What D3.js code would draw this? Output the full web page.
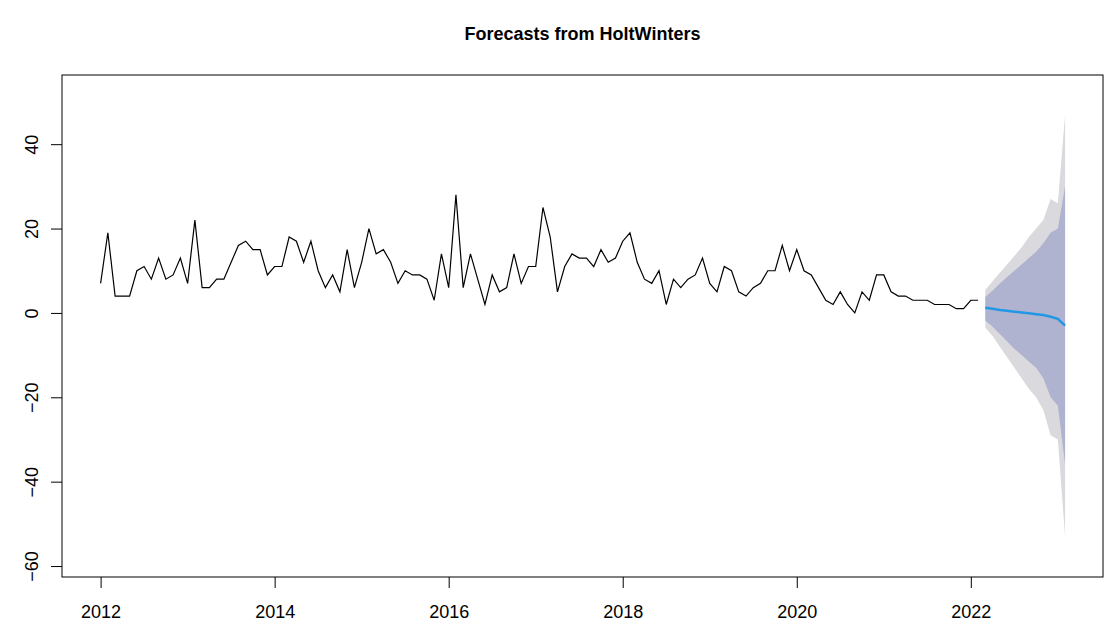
<!DOCTYPE html>
<html>
<head>
<meta charset="utf-8">
<script src="https://cdn.jsdelivr.net/npm/d3@7"></script>
<style>
  body { margin: 0; background: #fff; }
  svg { display: block; font-family: "Liberation Sans", Arial, sans-serif; }
</style>
</head>
<body>
<div class="chart"></div>
<script>
// observed series, monthly from Jan 2012
var startYear = 2012;
var observed = [
  7, 19, 4, 4, 4, 10, 11, 8, 13, 8, 9, 13,
  7, 22, 6, 6, 8, 8, 12, 16, 17, 15, 15, 9,
  11, 11, 18, 17, 12, 17, 10, 6, 9, 5, 15, 6,
  12, 20, 14, 15, 12, 7, 10, 9, 9, 8, 3, 14,
  6, 28, 6, 14, 8, 2, 9, 5, 6, 14, 7, 11,
  11, 25, 18, 5, 11, 14, 13, 13, 11, 15, 12, 13,
  17, 19, 12, 8, 7, 10, 2, 8, 6, 8, 9, 13,
  7, 5, 11, 10, 5, 4, 6, 7, 10, 10, 16, 10,
  15, 10, 9, 6, 3, 2, 5, 2, 0, 5, 3, 9,
  9, 5, 4, 4, 3, 3, 3, 2, 2, 2, 1, 1,
  3, 3
];

// forecast, 12 months from Mar 2022
var fcMean = [1.2, 1.0, 0.7, 0.5, 0.3, 0.1, -0.1, -0.3, -0.5, -0.9, -1.4, -3.0];
var fcUpper95 = [5.5, 7.5, 9.5, 11.5, 13.5, 15.5, 18, 20, 22, 27, 26, 47];
var fcLower95 = [-3.5, -5.5, -8, -10.5, -13, -15.5, -18, -20, -23, -29, -30, -53];
var fcUpper80 = [3.8, 5.3, 7, 8.5, 10, 11.5, 13, 14.5, 16.5, 19, 20, 30];
var fcLower80 = [-1.8, -3.3, -5, -6.8, -8.5, -10, -11.5, -13, -15.5, -20, -22, -36];

var xTicks = [2012, 2014, 2016, 2018, 2020, 2022];
var yTicks = [-60, -40, -20, 0, 20, 40];

var svgWidth = 1107;
var svgHeight = 634;

var margin = { top: 75, right: 4, bottom: 57, left: 62 };
var width = svgWidth - margin.left - margin.right;
var height = svgHeight - margin.top - margin.bottom;

var svg = d3.select(".chart")
  .append("svg")
  .attr("width", svgWidth)
  .attr("height", svgHeight);

svg.append("rect")
  .attr("width", svgWidth)
  .attr("height", svgHeight)
  .attr("fill", "#fff");

var chartGroup = svg.append("g")
  .attr("transform", `translate(${margin.left}, ${margin.top})`);

var xScale = d3.scaleLinear()
  .domain([2011.5564, 2023.519])
  .range([0, width]);

var yScale = d3.scaleLinear()
  .domain([-62.6, 56.4])
  .range([height, 0]);

var obsData = observed.map((v, i) => ({ t: startYear + i / 12, v: v }));
var fcStart = observed.length;
var fcData = fcMean.map((m, i) => ({
  t: startYear + (fcStart + i) / 12,
  mean: m,
  lo95: fcLower95[i], hi95: fcUpper95[i],
  lo80: fcLower80[i], hi80: fcUpper80[i]
}));

// prediction bands
var band95 = d3.area()
  .x(d => xScale(d.t))
  .y0(d => yScale(d.lo95))
  .y1(d => yScale(d.hi95));

var band80 = d3.area()
  .x(d => xScale(d.t))
  .y0(d => yScale(d.lo80))
  .y1(d => yScale(d.hi80));

chartGroup.append("path")
  .datum(fcData)
  .attr("d", band95)
  .attr("fill", "#dadade");

chartGroup.append("path")
  .datum(fcData)
  .attr("d", band80)
  .attr("fill", "#b0b3cf");

// observed line
var line = d3.line()
  .x(d => xScale(d.t))
  .y(d => yScale(d.v));

chartGroup.append("path")
  .datum(obsData)
  .attr("d", line)
  .attr("fill", "none")
  .attr("stroke", "#000")
  .attr("stroke-width", 1.2);

// forecast mean
chartGroup.append("path")
  .datum(fcData)
  .attr("d", d3.line().x(d => xScale(d.t)).y(d => yScale(d.mean)))
  .attr("fill", "none")
  .attr("stroke", "#2297e6")
  .attr("stroke-width", 2.5);

// axes
var bottomAxis = d3.axisBottom(xScale)
  .tickValues(xTicks)
  .tickFormat(d3.format("d"))
  .tickSizeOuter(0)
  .tickSizeInner(11)
  .tickPadding(17);

var leftAxis = d3.axisLeft(yScale)
  .tickValues(yTicks)
  .tickSizeOuter(0)
  .tickSizeInner(11);

var xAxisG = chartGroup.append("g")
  .attr("transform", `translate(0, ${height})`)
  .call(bottomAxis);
xAxisG.select(".domain").remove();
xAxisG.selectAll("text")
  .style("font-size", "18px")
  .attr("fill", "#000");
xAxisG.selectAll("line").attr("stroke", "#000");

var yAxisG = chartGroup.append("g")
  .call(leftAxis);
yAxisG.select(".domain").remove();
yAxisG.selectAll("line").attr("stroke", "#000");
yAxisG.selectAll("text")
  .style("font-size", "18px")
  .attr("fill", "#000")
  .attr("x", 0)
  .attr("dy", 0)
  .attr("text-anchor", "middle")
  .attr("transform", "translate(-31, 0) rotate(-90)")
  .attr("y", 7);

// box
chartGroup.append("rect")
  .attr("width", width)
  .attr("height", height)
  .attr("fill", "none")
  .attr("stroke", "#000")
  .attr("stroke-width", 1);

// title
svg.append("text")
  .attr("x", margin.left + width / 2)
  .attr("y", 40)
  .attr("text-anchor", "middle")
  .style("font-size", "18px")
  .style("font-weight", "bold")
  .text("Forecasts from HoltWinters");
</script>
</body>
</html>
